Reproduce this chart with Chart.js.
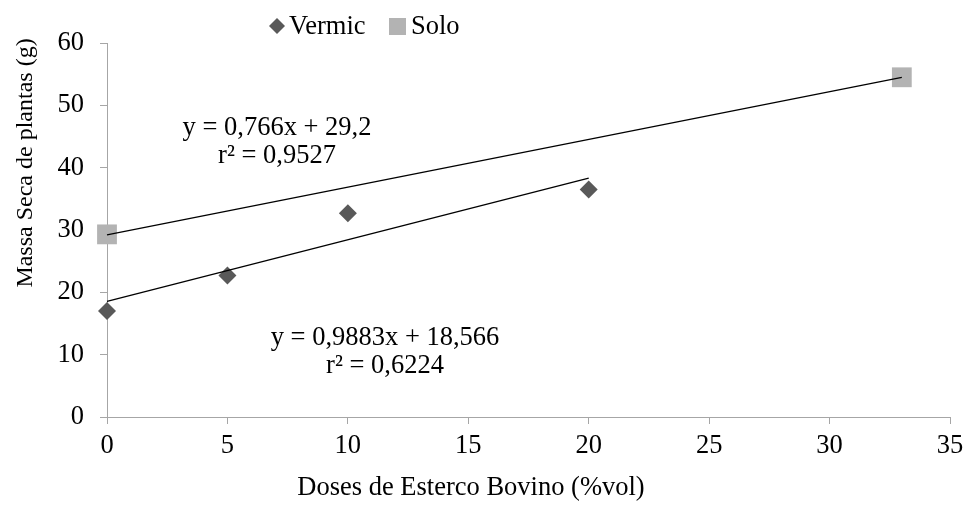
<!DOCTYPE html>
<html>
<head>
<meta charset="utf-8">
<script src="https://cdn.jsdelivr.net/npm/chart.js@4.4.1/dist/chart.umd.min.js"></script>
<style>
  html, body { margin: 0; padding: 0; background: #fff; }
  #wrap { width: 965px; height: 525px; position: relative; }
</style>
</head>
<body>
<div id="wrap"><canvas id="c" width="965" height="525"></canvas></div>
<script>
// ---- data ----
const seriesNames = ["Vermic", "Solo"];
const vermicX = [0, 5, 10, 20];
const vermicY = [17.0, 22.7, 32.7, 36.5];
const soloX = [0, 33];
const soloY = [29.3, 54.5];
const vermicSlope = 0.9883, vermicIntercept = 18.566;
const soloSlope = 0.766, soloIntercept = 29.2;
const vermicEq = ["y = 0,9883x + 18,566", "r² = 0,6224"];
const soloEq = ["y = 0,766x + 29,2", "r² = 0,9527"];
const xTitle = "Doses de Esterco Bovino (%vol)";
const yTitle = "Massa Seca de plantas (g)";

const FONT = "'Liberation Serif', serif";
const FS = 26.5;
const toPts = (xs, ys) => xs.map((x, i) => ({ x: x, y: ys[i] }));
const trend = (xs, m, b) => {
  const x0 = Math.min(...xs), x1 = Math.max(...xs);
  return [{ x: x0, y: m * x0 + b }, { x: x1, y: m * x1 + b }];
};

const VCOL = '#595959', SCOL = '#b3b3b3', AXIS = '#a6a6a6';

const overlay = {
  id: 'overlay',
  afterDraw(chart) {
    const ctx = chart.ctx;
    ctx.save();
    ctx.fillStyle = '#000';
    ctx.font = FS + 'px ' + FONT;
    ctx.textAlign = 'center';
    ctx.textBaseline = 'middle';
    // equation labels
    ctx.fillText(soloEq[0], 277, 128);
    ctx.fillText(soloEq[1], 277, 156);
    ctx.fillText(vermicEq[0], 385, 338);
    ctx.fillText(vermicEq[1], 385, 366);
    // axis titles
    ctx.fillText(xTitle, 471, 488);
    ctx.save();
    ctx.font = '24px ' + FONT;
    ctx.translate(26, 163);
    ctx.rotate(-Math.PI / 2);
    ctx.fillText(yTitle, 0, 0);
    ctx.restore();
    // legend
    ctx.textAlign = 'left';
    const ly = 26;
    ctx.fillStyle = VCOL;
    ctx.beginPath();
    ctx.moveTo(277, ly - 8); ctx.lineTo(285, ly); ctx.lineTo(277, ly + 8); ctx.lineTo(269, ly);
    ctx.closePath(); ctx.fill();
    ctx.fillStyle = '#000';
    ctx.fillText(seriesNames[0], 289, ly + 1);
    ctx.fillStyle = SCOL;
    ctx.fillRect(389, ly - 8, 17, 17);
    ctx.fillStyle = '#000';
    ctx.fillText(seriesNames[1], 411, ly + 1);
    ctx.restore();
  }
};

new Chart(document.getElementById('c'), {
  type: 'scatter',
  data: {
    datasets: [
      { label: seriesNames[0], data: toPts(vermicX, vermicY), backgroundColor: VCOL, borderColor: VCOL,
        pointStyle: 'rectRot', pointRadius: 9, pointBorderWidth: 0, order: 2, clip: false },
      { label: seriesNames[1], data: toPts(soloX, soloY), backgroundColor: SCOL, borderColor: SCOL,
        pointStyle: 'rect', pointRadius: 14, pointBorderWidth: 0, order: 2, clip: false },
      { label: 'trendV', data: trend(vermicX, vermicSlope, vermicIntercept), showLine: true,
        borderColor: '#000', borderWidth: 1.3, pointRadius: 0, order: 1, clip: false },
      { label: 'trendS', data: trend(soloX, soloSlope, soloIntercept), showLine: true,
        borderColor: '#000', borderWidth: 1.3, pointRadius: 0, order: 1, clip: false }
    ]
  },
  options: {
    responsive: false,
    animation: false,
    devicePixelRatio: 1,
    layout: { padding: { left: 0, right: 15, top: 43, bottom: 0 } },
    plugins: { legend: { display: false }, tooltip: { enabled: false }, title: { display: false } },
    scales: {
      x: {
        type: 'linear', min: 0, max: 35,
        afterFit(s) { s.height = 108; s.paddingLeft = 0; s.paddingRight = 0; },
        ticks: { stepSize: 5, color: '#000', font: { family: FONT, size: FS }, padding: 6, maxRotation: 0 },
        grid: { drawOnChartArea: false, drawTicks: true, tickLength: 7, color: AXIS },
        border: { color: AXIS, width: 1 }
      },
      y: {
        type: 'linear', min: 0, max: 60,
        afterFit(s) { s.width = 107; s.paddingTop = 0; s.paddingBottom = 0; },
        ticks: { stepSize: 10, color: '#000', font: { family: FONT, size: FS }, padding: 16 },
        grid: { drawOnChartArea: false, drawTicks: true, tickLength: 7, color: AXIS },
        border: { color: AXIS, width: 1 }
      }
    }
  },
  plugins: [overlay]
});
</script>
</body>
</html>
